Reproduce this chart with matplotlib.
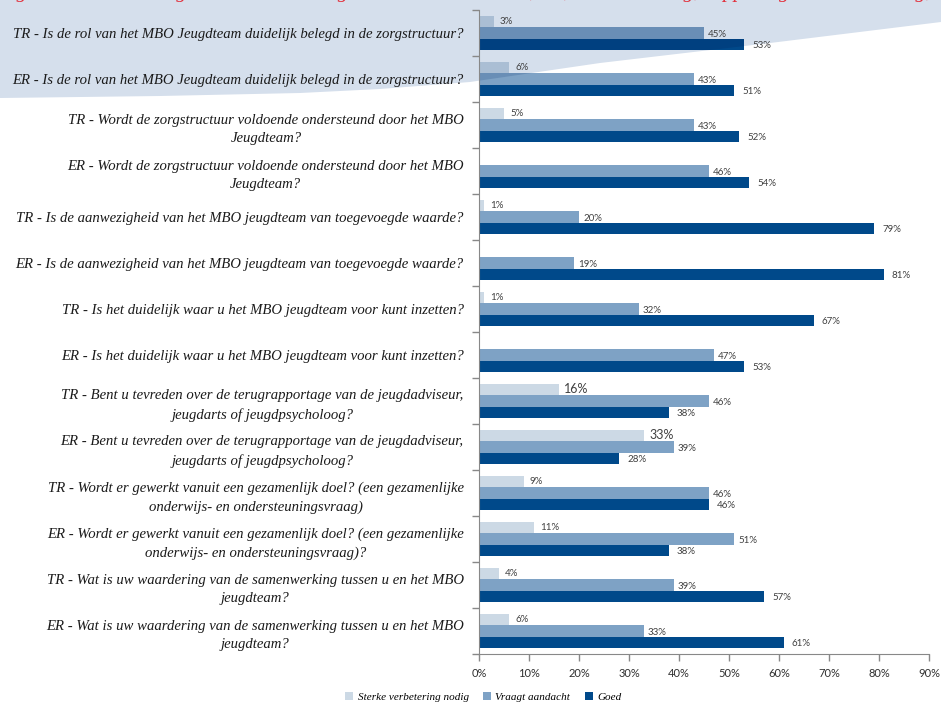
import matplotlib.pyplot as plt
import numpy as np
from matplotlib.patches import Patch, Polygon

# survey answers per question, percentages
vragen = [
    "TR - Is de rol van het MBO Jeugdteam duidelijk belegd in de zorgstructuur?",
    "ER - Is de rol van het MBO Jeugdteam duidelijk belegd in de zorgstructuur?",
    "TR - Wordt de zorgstructuur voldoende ondersteund door het MBO\nJeugdteam?",
    "ER - Wordt de zorgstructuur voldoende ondersteund door het MBO\nJeugdteam?",
    "TR - Is de aanwezigheid van het MBO jeugdteam van toegevoegde waarde?",
    "ER - Is de aanwezigheid van het MBO jeugdteam van toegevoegde waarde?",
    "TR - Is het duidelijk waar u het MBO jeugdteam voor kunt inzetten?",
    "ER - Is het duidelijk waar u het MBO jeugdteam voor kunt inzetten?",
    "TR - Bent u tevreden over de terugrapportage van de jeugdadviseur,\njeugdarts of jeugdpsycholoog?",
    "ER - Bent u tevreden over de terugrapportage van de jeugdadviseur,\njeugdarts of jeugdpsycholoog?",
    "TR - Wordt er gewerkt vanuit een gezamenlijk doel? (een gezamenlijke\nonderwijs- en ondersteuningsvraag)",
    "ER - Wordt er gewerkt vanuit een gezamenlijk doel? (een gezamenlijke\nonderwijs- en ondersteuningsvraag)?",
    "TR - Wat is uw waardering van de samenwerking tussen u en het MBO\njeugdteam?",
    "ER - Wat is uw waardering van de samenwerking tussen u en het MBO\njeugdteam?",
]
sterke_verbetering = [3, 6, 5, 0, 1, 0, 1, 0, 16, 33, 9, 11, 4, 6]
vraagt_aandacht = [45, 43, 43, 46, 20, 19, 32, 47, 46, 39, 46, 51, 39, 33]
goed = [53, 51, 52, 54, 79, 81, 67, 53, 38, 28, 46, 38, 57, 61]
reeksen = ["Sterke verbetering nodig", "Vraagt aandacht", "Goed"]
kleuren = ["#ccd9e5", "#7ea2c5", "#00498a"]
xticks = np.arange(0, 91, 10)

bg_kleur = np.array([213, 223, 236]) / 255.0
W, H = 941, 703

fig = plt.figure(figsize=(W / 100, H / 100), dpi=100)
ax = fig.add_axes([479 / W, 49 / H, 450 / W, 644 / H])
ax.set_facecolor("none")

# light blue swoosh in the top-left corner of the slide
rand = [(941, 22), (770, 43), (600, 63), (470, 82), (380, 89), (300, 93), (160, 96), (0, 98)]
pts = [(0, 0), (941, 0)] + rand
pts = [(x / W, 1 - y / H) for x, y in pts]
swoosh = Polygon(pts, closed=True, transform=fig.transFigure, facecolor=bg_kleur,
                 edgecolor="none", zorder=-5)
fig.patches.append(swoosh)

y = np.arange(len(vragen))
h = 0.24
data = [sterke_verbetering, vraagt_aandacht, goed]
offsets = [-h, 0, h]
for waarden, kleur, off in zip(data, kleuren, offsets):
    ax.barh(y + off, waarden, height=h, color=kleur, zorder=2)
    # the swoosh multiplies over the bars where they overlap
    donker = np.array(plt.matplotlib.colors.to_rgb(kleur)) * bg_kleur
    bars = ax.barh(y + off, waarden, height=h, color=donker, zorder=2.1)
    for b in bars:
        b.set_clip_path(swoosh)

# value labels
for i in y:
    v = sterke_verbetering[i]
    if v > 0:
        groot = v >= 15
        ax.annotate(f"{v}%", (v, i - h), xytext=(5 if groot else 6, 0.5),
                    textcoords="offset pixels", va="center", ha="left",
                    fontsize=9 if groot else 7, color="#404040", family="Lato")
    v = vraagt_aandacht[i]
    ax.annotate(f"{v}%", (v, i), xytext=(4, -1), textcoords="offset pixels",
                va="center", ha="left", fontsize=7, color="#404040", family="Lato")
    v = goed[i]
    ax.annotate(f"{v}%", (v, i + h), xytext=(8, -1), textcoords="offset pixels",
                va="center", ha="left", fontsize=7, color="#404040", family="Lato")

ax.set_ylim(len(vragen) - 0.5, -0.5)
ax.set_xlim(0, 90)
ax.set_xticks(xticks)
ax.set_xticklabels([f"{t}%" for t in xticks], family="Lato", fontsize=8, color="#303030")
ax.set_yticks(y)
ax.set_yticklabels(vragen, family="Liberation Serif", style="italic", fontsize=10.6,
                   color="#1a1a1a", multialignment="center", linespacing=1.55)
ax.set_yticks(np.arange(-0.5, len(vragen)), minor=True)
ax.tick_params(axis="y", which="major", length=0, pad=11)
ax.tick_params(axis="y", which="minor", length=5, color="#888888", width=1)
ax.tick_params(axis="x", length=5, color="#888888", width=1, pad=5)
for s in ["top", "right"]:
    ax.spines[s].set_visible(False)
for s in ["left", "bottom"]:
    ax.spines[s].set_color("#888888")

handles = [Patch(facecolor=k, edgecolor="none") for k in kleuren]
fig.legend(handles, reeksen, loc="center left", bbox_to_anchor=(341 / W, 6 / H),
           ncol=3, frameon=False, handlelength=0.7, handleheight=0.7,
           handletextpad=0.4, columnspacing=1.3, borderaxespad=0,
           prop={"family": "Liberation Serif", "style": "italic", "size": 8})

# caption running off the top of the page
fig.text(-2 / W, 1 + 3 / H, "Figuur 6: Beoordeling van het MBO Jeugdteam door TR en ER, rol, ondersteuning, rapportage en waardering, samenwerking,",
         family="Liberation Serif", style="italic", fontsize=15, color="#e2313d",
         va="baseline", ha="left")

fig.savefig("out.png", dpi=100)
